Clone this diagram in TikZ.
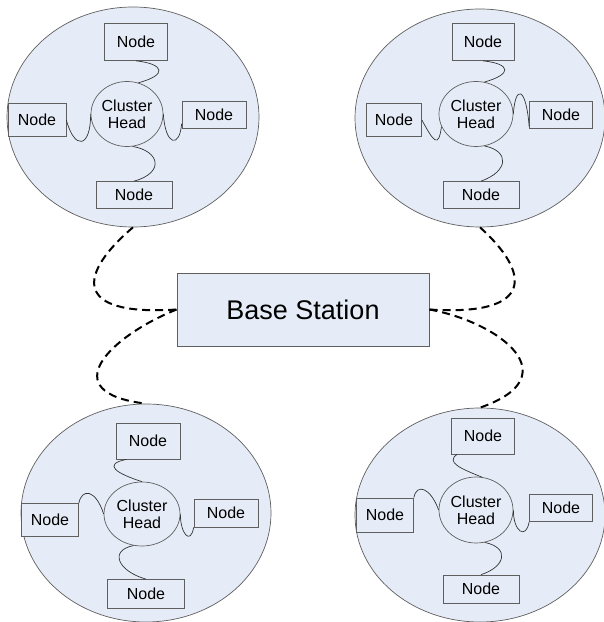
\documentclass[tikz,border=0pt]{standalone}
\usepackage{fontspec}
\setmainfont{Liberation Sans}
\usetikzlibrary{shapes.geometric}
\definecolor{cellfill}{RGB}{230,236,247}
\definecolor{rimgray}{RGB}{95,95,95}

\begin{document}
\begin{tikzpicture}[x=1pt,y=1pt,
    cell/.style={ellipse,draw=rimgray,fill=cellfill,inner sep=0,line width=0.7pt},
    chead/.style={ellipse,draw=rimgray,fill=cellfill,inner sep=0,line width=0.7pt,
        align=center,font=\fontsize{16}{17}\selectfont},
    sensor/.style={rectangle,draw=rimgray,fill=cellfill,inner sep=0,line width=0.7pt,
        font=\fontsize{16}{18}\selectfont},
    station/.style={rectangle,draw=rimgray,fill=cellfill,inner sep=0,line width=0.8pt,
        minimum width=252pt,minimum height=73pt,font=\fontsize{27}{30}\selectfont},
    wire/.style={line width=0.7pt,draw=black!80},
    link/.style={line width=2pt,dash pattern=on 8pt off 5pt}]

    \useasboundingbox (0,0) rectangle (604,622);

    \node[cell,minimum width=252pt,minimum height=220pt] (tl) at (133,505) {};
    \node[cell,minimum width=250pt,minimum height=218pt] (tr) at (480,504) {};
    \node[cell,minimum width=250pt,minimum height=218pt] (bl) at (146,109) {};
    \node[cell,minimum width=250pt,minimum height=214pt] (br) at (480,107) {};

    \node[station] (bs) at (303,312.5) {Base Station};

    \draw[link] (tl.south) .. controls +(-53,-45) and +(-107,-7) .. (bs.west);
    \draw[link] (bs.west) .. controls +(-67,-27) and +(-93,11) .. (bl.north);
    \draw[link] (tr.south) .. controls +(50,-45) and +(107,-7) .. (bs.east);
    \draw[link] (bs.east) .. controls +(71,-13) and +(90,31) .. (br.north);

    % top left
    \node[chead,minimum width=72pt,minimum height=65pt] (tlh) at (127,508) {Cluster\\Head};
    \node[sensor,minimum width=63pt,minimum height=37pt] (tlt) at (136,580) {Node};
    \node[sensor,minimum width=58pt,minimum height=33pt] (tll) at (37,502) {Node};
    \node[sensor,minimum width=64pt,minimum height=27pt] (tlr) at (214,507) {Node};
    \node[sensor,minimum width=76pt,minimum height=27pt] (tlb) at (134,427) {Node};
    \draw[wire] (tlt.south) .. controls +(28,-3) and +(30,8) .. (tlh.70);
    \draw[wire] (tll.east) .. controls +(8,-30) and +(0,-35) .. (tlh.west);
    \draw[wire] (tlh.east) .. controls +(2,-32) and +(-2,-25) .. (tlr.195);
    \draw[wire] (tlh.-80) .. controls +(28,-5) and +(30,8) .. (tlb.north);

    % top right
    \node[chead,minimum width=74pt,minimum height=65pt] (trh) at (476,508) {Cluster\\Head};
    \node[sensor,minimum width=62pt,minimum height=37pt] (trt) at (483,580) {Node};
    \node[sensor,minimum width=55pt,minimum height=33pt] (trl) at (394,502) {Node};
    \node[sensor,minimum width=63pt,minimum height=27pt] (trr) at (561,507) {Node};
    \node[sensor,minimum width=76pt,minimum height=27pt] (trb) at (481,427) {Node};
    \draw[wire] (trt.south) .. controls +(28,-3) and +(28,8) .. (trh.75);
    \draw[wire] (trl.east) .. controls +(12,-22) and +(-3,-22) .. (trh.200);
    \draw[wire] (trh.east) .. controls +(2,30) and +(-3,40) .. (trr.200);
    \draw[wire] (trh.-75) .. controls +(25,-5) and +(28,10) .. (trb.north);

    % bottom left
    \node[chead,minimum width=76pt,minimum height=64pt] (blh) at (142,108) {Cluster\\Head};
    \node[sensor,minimum width=64pt,minimum height=36pt] (blt) at (148,181) {Node};
    \node[sensor,minimum width=57pt,minimum height=33pt] (bll) at (50,102) {Node};
    \node[sensor,minimum width=64pt,minimum height=28pt] (blr) at (226,109) {Node};
    \node[sensor,minimum width=77pt,minimum height=29pt] (blb) at (146,28) {Node};
    \draw[wire] ([xshift=11pt]blt.south west) .. controls +(-25,-5) and +(-25,8) .. (blh.north);
    \draw[wire] (bll.north east) .. controls +(3,15) and +(-8,25) .. (blh.west);
    \draw[wire] (blh.east) .. controls +(0,-20) and +(-3,-18) .. (blr.south west);
    \draw[wire] (blh.-105) .. controls +(-25,-5) and +(-28,8) .. (blb.north);

    % bottom right
    \node[chead,minimum width=74pt,minimum height=66pt] (brh) at (476,112) {Cluster\\Head};
    \node[sensor,minimum width=63pt,minimum height=36pt] (brt) at (483,186) {Node};
    \node[sensor,minimum width=57pt,minimum height=34pt] (brl) at (385,107) {Node};
    \node[sensor,minimum width=63pt,minimum height=27pt] (brr) at (561,114) {Node};
    \node[sensor,minimum width=76pt,minimum height=28pt] (brb) at (481,33) {Node};
    \draw[wire] ([xshift=6pt]brt.south west) .. controls +(-12,-8) and +(-20,8) .. (brh.80);
    \draw[wire] (brl.north east) .. controls +(3,15) and +(-8,22) .. (brh.west);
    \draw[wire] (brh.east) .. controls +(0,-22) and +(-3,-18) .. (brr.south west);
    \draw[wire] (brh.-75) .. controls +(25,-5) and +(25,8) .. (brb.north);

\end{tikzpicture}
\end{document}
